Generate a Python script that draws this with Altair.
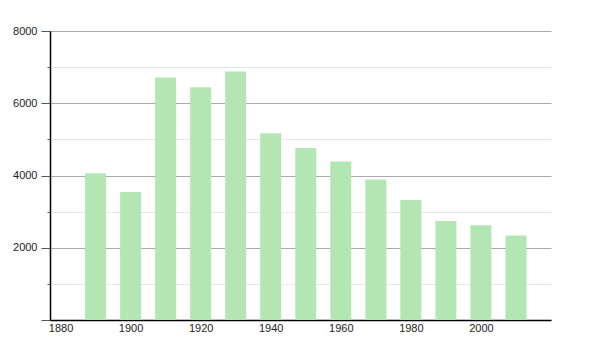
import altair as alt
import pandas as pd

years = [1890, 1900, 1910, 1920, 1930, 1940, 1950, 1960, 1970, 1980, 1990, 2000, 2010]
population = [4060, 3540, 6710, 6440, 6880, 5170, 4760, 4390, 3890, 3320, 2740, 2620, 2340]
x_ticks = [1880, 1900, 1920, 1940, 1960, 1980, 2000]
y_ticks = [0, 1000, 2000, 3000, 4000, 5000, 6000, 7000, 8000]

df = pd.DataFrame({"year": years, "pop": population})

FONT = "Liberation Sans"

chart = alt.Chart(df).mark_bar(color="#b3e6b3", width=21).encode(
    x=alt.X(
        "year:Q",
        scale=alt.Scale(domain=[1877, 2020], nice=False, zero=False, padding=0),
        axis=alt.Axis(
            values=x_ticks, format="d", title=None, grid=False, ticks=False,
            domainColor="#000000", domainWidth=1.5, labelFont=FONT, labelFontSize=11,
            labelColor="#222222", labelPadding=2, labelFlush=False,
        ),
    ),
    y=alt.Y(
        "pop:Q",
        scale=alt.Scale(domain=[0, 8000], nice=False, padding=0),
        axis=alt.Axis(
            values=y_ticks, title=None, format="d",
            labelExpr="datum.value % 2000 === 0 && datum.value > 0 ? datum.label : ''",
            gridColor={"condition": {"test": "datum.value % 2000 === 0", "value": "#aaaaaa"}, "value": "#e6e6e6"},
            tickSize={"condition": {"test": "datum.value % 2000 === 0", "value": 9}, "value": 3},
            tickColor="#555555",
            domainColor="#000000", domainWidth=1.5,
            labelFont=FONT, labelFontSize=11, labelColor="#222222", labelPadding=4,
        ),
    ),
).properties(
    width=501, height=289,
    padding={"left": 50, "top": 31, "right": 49, "bottom": 30},
    autosize=alt.AutoSizeParams(type="none"),
).configure_view(stroke=None)

chart.save("out.html", embed_options={"renderer": "svg", "actions": False})
